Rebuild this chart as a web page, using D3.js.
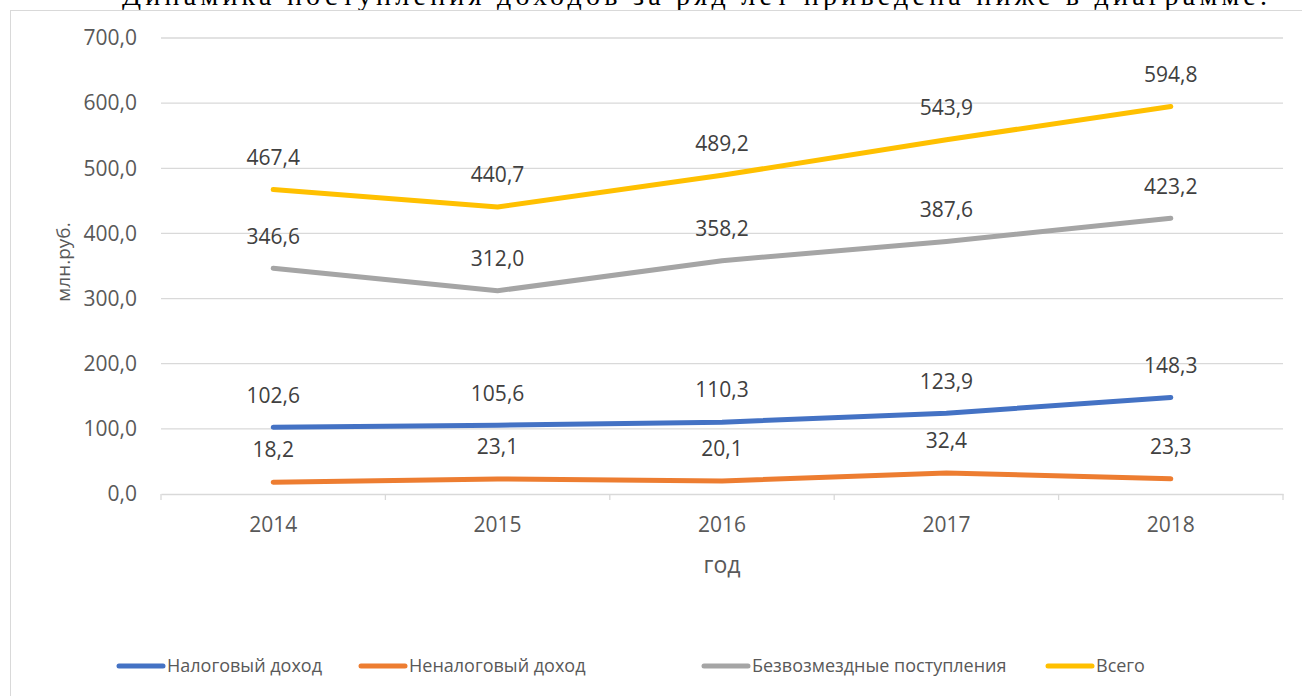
<!DOCTYPE html>
<html lang="ru">
<head>
<meta charset="UTF-8">
<title>Динамика поступления доходов</title>
<script src="https://d3js.org/d3.v7.min.js"></script>
<style>
  body { margin: 0; background: #fff; }
  svg { display: block; }
</style>
</head>
<body>
<svg id="chart"></svg>
<script>
// data
const years = ["2014", "2015", "2016", "2017", "2018"];
const tax = [102.6, 105.6, 110.3, 123.9, 148.3];
const nonTax = [18.2, 23.1, 20.1, 32.4, 23.3];
const grants = [346.6, 312.0, 358.2, 387.6, 423.2];
const total = [467.4, 440.7, 489.2, 543.9, 594.8];
const seriesNames = ["Налоговый доход", "Неналоговый доход", "Безвозмездные поступления", "Всего"];
const yTicks = [0, 100, 200, 300, 400, 500, 600, 700];

const colors = ["#4472C4", "#ED7D31", "#A5A5A5", "#FFC000"];
const series = [tax, nonTax, grants, total].map((vals, i) => ({
    name: seriesNames[i], color: colors[i],
    values: vals.map((v, j) => ({year: years[j], v: v}))
}));

const W = 1302, H = 696;
const svg = d3.select("#chart").attr("width", W).attr("height", H);
const font = "'Open Sans', sans-serif";
const txt = "#595959";
const numSize = 21;

// cut-off line of document text above the chart
svg.append("text")
    .attr("x", 122).attr("y", 5)
    .attr("font-family", "'Liberation Serif', serif")
    .attr("font-size", 28)
    .attr("textLength", 1145)
    .attr("fill", "#000")
    .text("Динамика поступления доходов за ряд лет приведена ниже в диаграмме.");

// chart frame
svg.append("rect")
    .attr("x", 10.5).attr("y", 10.5)
    .attr("width", W + 10).attr("height", H + 10)
    .attr("fill", "#fff").attr("stroke", "#d9d9d9");

const plot = {left: 161, right: 1283, top: 38, bottom: 494};

const x = d3.scaleBand().domain(years).range([plot.left, plot.right]);
const y = d3.scaleLinear().domain([0, 700]).range([plot.bottom, plot.top]);

// gridlines
svg.append("g")
    .selectAll("line").data(yTicks.filter(d => d > 0)).join("line")
    .attr("x1", plot.left).attr("x2", plot.right)
    .attr("y1", d => y(d)).attr("y2", d => y(d))
    .attr("stroke", "#d9d9d9").attr("stroke-width", 1.3);

// y axis labels
const fmt = d => d3.format(".1f")(d).replace(".", ",");
svg.append("g")
    .selectAll("text").data(yTicks).join("text")
    .attr("x", 137).attr("y", d => y(d))
    .attr("dy", "0.35em")
    .attr("text-anchor", "end")
    .attr("font-family", font).attr("font-size", numSize)
    .attr("fill", txt)
    .text(fmt);

// x axis
const xAxis = d3.axisBottom(x).tickSize(0).tickPadding(23);
const gx = svg.append("g")
    .attr("transform", `translate(0,${plot.bottom})`)
    .call(xAxis);
gx.select(".domain").attr("stroke", "#d9d9d9").attr("stroke-width", 1.3);
gx.selectAll("text")
    .attr("font-family", font).attr("font-size", numSize).attr("fill", txt);
// tick marks between categories
gx.append("g").selectAll("line")
    .data(years.map(d => x(d)).concat([plot.right])).join("line")
    .attr("x1", d => d).attr("x2", d => d)
    .attr("y1", 0).attr("y2", 6)
    .attr("stroke", "#d9d9d9").attr("stroke-width", 1.3);

// axis titles
svg.append("text")
    .attr("x", x("2016") + x.bandwidth() / 2).attr("y", 565)
    .attr("dy", "0.35em")
    .attr("text-anchor", "middle")
    .attr("font-family", font).attr("font-size", 23)
    .attr("fill", txt).text("год");
svg.append("text")
    .attr("transform", "translate(63,262) rotate(-90)")
    .attr("dy", "0.35em")
    .attr("text-anchor", "middle")
    .attr("font-family", font).attr("font-size", 19)
    .attr("fill", txt).text("млн.руб.");

// lines
const cx = d => x(d.year) + x.bandwidth() / 2;
const line = d3.line().x(cx).y(d => y(d.v));
svg.append("g")
    .selectAll("path").data(series).join("path")
    .attr("d", d => line(d.values))
    .attr("fill", "none")
    .attr("stroke", d => d.color)
    .attr("stroke-width", 5)
    .attr("stroke-linecap", "round")
    .attr("stroke-linejoin", "round");

// data labels
series.forEach(s => {
    svg.append("g")
        .selectAll("text").data(s.values).join("text")
        .attr("x", cx).attr("y", d => y(d.v) - 32)
        .attr("dy", "0.35em")
        .attr("text-anchor", "middle")
        .attr("font-family", font).attr("font-size", numSize)
        .attr("fill", "#404040")
        .text(d => fmt(d.v));
});

// legend
const legendX = [117, 359, 702, 1046];
const lg = svg.append("g").selectAll("g").data(series).join("g")
    .attr("transform", (d, i) => `translate(${legendX[i]},666)`);
lg.append("line")
    .attr("x1", 2).attr("x2", 46)
    .attr("stroke", d => d.color).attr("stroke-width", 5)
    .attr("stroke-linecap", "round");
lg.append("text")
    .attr("x", 50).attr("dy", "0.35em")
    .attr("font-family", font).attr("font-size", 18)
    .attr("fill", txt)
    .text(d => d.name);
</script>
</body>
</html>
